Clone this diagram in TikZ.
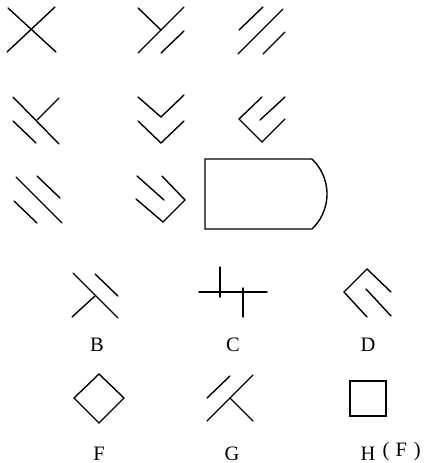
\documentclass[tikz,border=0pt]{standalone}
\usepackage{fontspec}
\newfontfamily\lblfont{Liberation Serif}
\usepackage{tikz}

\begin{document}
\begin{tikzpicture}[x=1pt,y=-1pt,line width=1.4pt,line cap=round,line join=miter,
  lbl/.style={font=\lblfont\fontsize{20.5}{22}\selectfont,inner sep=0pt,anchor=base}]
  \useasboundingbox (0,0) rectangle (427,463);
  % row 1
  \draw (8,8) -- (56,52);
  \draw (7,52) -- (55,7);
  \draw (138,8) -- (161,30);
  \draw (138,53) -- (184,7);
  \draw (161,53) -- (184,31);
  \draw (239,30) -- (263,7);
  \draw (238,54) -- (283,9);
  \draw (263,54) -- (285,32);
  % row 2
  \draw (13,97) -- (59,144);
  \draw (37,120) -- (59,98);
  \draw (13,121) -- (36,143);
  \draw (138,97) -- (161,117) -- (184,95);
  \draw (138,121) -- (161,143) -- (184,121);
  \draw (262,97) -- (239,119) -- (262,142) -- (285,119);
  \draw (260,120) -- (285,97);
  % row 3
  \draw (16,177) -- (62,223);
  \draw (37,176) -- (60,198);
  \draw (14,201) -- (37,223);
  \draw (137,176) -- (164,200);
  \draw (162,176) -- (185,200) -- (163,222) -- (136,199);
  \draw (312,159) -- (205,159) -- (205,229) -- (312,229)
    arc[start angle=46.4,end angle=-46.4,radius=48.3];
  % answers
  \draw (73,273) -- (118,318);
  \draw (95,296) -- (72,317);
  \draw (95,274) -- (118,296);
  \node[lbl] (lblB) at (97,351) {B};
  \draw (199,292) -- (267,292);
  \draw (220,267) -- (220,297);
  \draw (243,288) -- (243,317);
  \node[lbl] (lblC) at (233,351) {C};
  \draw (367,317) -- (344,292) -- (367,269) -- (391,292);
  \draw (366,289) -- (391,316);
  \node[lbl] (lblD) at (368,351) {D};
  \draw (99,374) -- (124,398) -- (99,423) -- (74,398) -- cycle;
  \node[lbl] (lblF) at (99,460) {F};
  \draw (207,398) -- (230,376);
  \draw (207,421) -- (253,375);
  \draw (230,398) -- (253,421);
  \node[lbl] (lblG) at (232,460) {G};
  \draw (350,381) rectangle (386,416);
  \node[lbl] (lblH) at (368,460) {H};
  \node[lbl,anchor=base west] (ans) at (382,456) {(\hspace{6pt}F\hspace{7pt})};
\end{tikzpicture}
\end{document}
